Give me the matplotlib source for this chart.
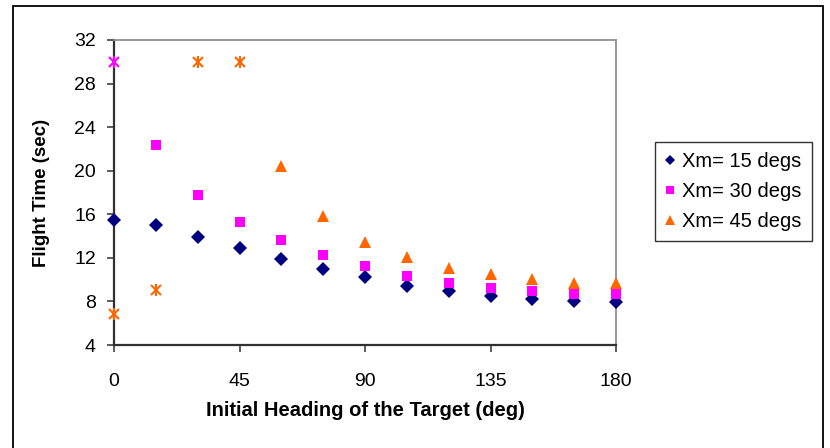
import matplotlib
matplotlib.use("Agg")
import matplotlib.pyplot as plt
from matplotlib.patches import Rectangle
from matplotlib.lines import Line2D

plt.rcParams['font.family'] = ['Liberation Sans', 'DejaVu Sans']

# Initial heading of the target (deg)
heading = [0, 15, 30, 45, 60, 75, 90, 105, 120, 135, 150, 165, 180]

# Flight time (sec) for each maximum look angle
xm15 = [15.45, 15.0, 13.95, 12.9, 11.87, 10.98, 10.2, 9.45, 8.99, 8.5, 8.2, 8.04, 7.92]
xm30_heading = [15, 30, 45, 60, 75, 90, 105, 120, 135, 150, 165, 180]
xm30 = [22.37, 17.77, 15.27, 13.6, 12.23, 11.22, 10.34, 9.72, 9.26, 9.0, 8.68, 8.66]
xm45_heading = [60, 75, 90, 105, 120, 135, 150, 165, 180]
xm45 = [20.44, 15.87, 13.49, 12.1, 11.1, 10.49, 10.03, 9.72, 9.72]

# Runs that did not converge normally, flagged with asterisks
miss30_heading = [0]
miss30 = [30.0]
miss45_heading = [0, 15, 30, 45]
miss45 = [6.82, 9.05, 30.0, 30.0]

labels = ['Xm= 15 degs', 'Xm= 30 degs', 'Xm= 45 degs']
x_ticks = [0, 45, 90, 135, 180]
y_ticks = [4, 8, 12, 16, 20, 24, 28, 32]

navy = '#000080'
magenta = '#FF00FF'
orange = '#FF6600'

fig = plt.figure(figsize=(8.3, 4.48), dpi=100)
fig.patch.set_facecolor('white')

# Chart-area frame
fig.patches.append(Rectangle((13 / 830, -0.05), 810 / 830, 1 - 6 / 448 + 0.05,
                             transform=fig.transFigure, fill=False,
                             edgecolor='black', linewidth=1.3, zorder=0))

ax = fig.add_axes([114 / 830, 1 - 345 / 448, 502 / 830, 305 / 448])

ax.plot(heading, xm15, linestyle='none', marker='D', markersize=6.8,
        color=navy, markeredgewidth=0, label=labels[0], clip_on=False, zorder=3)
ax.plot(xm30_heading, xm30, linestyle='none', marker='s', markersize=7.2,
        color=magenta, markeredgewidth=0, label=labels[1], clip_on=False, zorder=3)
ax.plot(xm45_heading, xm45, linestyle='none', marker='^', markersize=8.8,
        color=orange, markeredgewidth=0, label=labels[2], clip_on=False, zorder=3)

for hx, hy, c in ((miss30_heading, miss30, magenta), (miss45_heading, miss45, orange)):
    ax.plot(hx, hy, linestyle='none', marker='x', markersize=7.5,
            markeredgewidth=1.5, color=c, clip_on=False, zorder=3)
    ax.plot(hx, hy, linestyle='none', marker='|', markersize=8.0,
            markeredgewidth=1.5, color=c, clip_on=False, zorder=3)

ax.set_xlim(0, 180)
ax.set_ylim(4, 32)
ax.set_xticks(x_ticks)
ax.set_yticks(y_ticks)
ax.tick_params(direction='out', length=5, width=1.2, color='#404040',
               labelsize=14, pad=15)
ax.tick_params(axis='y', pad=8)

for side in ('left', 'bottom'):
    ax.spines[side].set_color('#303030')
    ax.spines[side].set_linewidth(1.6)
for side in ('top', 'right'):
    ax.spines[side].set_color('#909090')
    ax.spines[side].set_linewidth(1.3)

ax.set_xlabel('Initial Heading of the Target (deg)', fontsize=14.5,
              fontweight='bold', labelpad=8)
ax.set_ylabel('Flight Time (sec)', fontsize=13.5, fontweight='bold', labelpad=17)

handles = [
    Line2D([], [], linestyle='none', marker='D', markersize=5, color=navy, markeredgewidth=0),
    Line2D([], [], linestyle='none', marker='s', markersize=5.5, color=magenta, markeredgewidth=0),
    Line2D([], [], linestyle='none', marker='^', markersize=7, color=orange, markeredgewidth=0),
]
leg = fig.legend(handles, labels, loc='upper left',
                 bbox_to_anchor=(655 / 830, 1 - 142 / 448),
                 fontsize=14.5, frameon=True, fancybox=False, borderaxespad=0,
                 handlelength=0.5, handletextpad=0.35, labelspacing=0.55,
                 borderpad=0.5)
leg.get_frame().set_edgecolor('black')
leg.get_frame().set_linewidth(1.0)

fig.savefig('out.png', dpi=100, facecolor='white')
